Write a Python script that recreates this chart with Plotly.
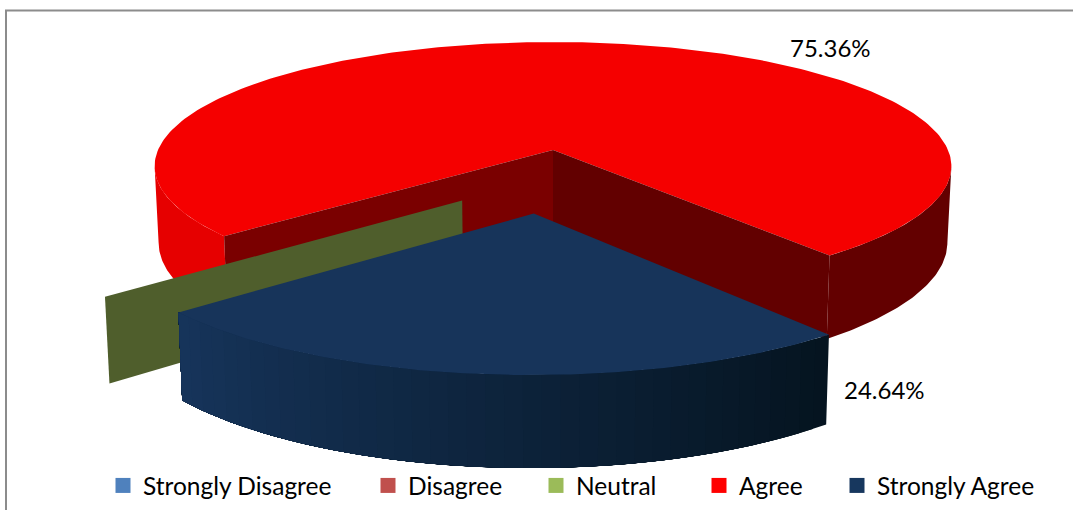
import numpy as np
import plotly.graph_objects as go

# ---- data ----
CATEGORIES = ["Strongly Disagree", "Disagree", "Neutral", "Agree", "Strongly Agree"]
VALUES = [0.0, 0.0, 0.0, 75.36, 24.64]
SHOWN_LABELS = {"Agree": (830, 47), "Strongly Agree": (884, 389)}

LEGEND_COLORS = ["#4F81BD", "#C0504D", "#9BBB59", "#FF0000", "#17375E"]
LEGEND_X = [103, 368, 536, 699, 837]

# ---- view of the 3D pie ----
CX, CY, RX, RY = 553.0, 150.0, 395.0, 122.0
PERSP = 0.13
DEPTH = 75.0
START = 139.7
PULL = {"Neutral": (0.45, 119.0), "Strongly Agree": (0.49, None)}

W, H = 1073, 510


def project(X, Y, z=0.0):
    s = 1.0 / (1.0 - PERSP * Y)
    return (CX + RX * X * s * (1 - 0.01 * z), CY + RY * Y * s + DEPTH * z * s)


def rim(theta, off=(0.0, 0.0)):
    t = np.radians(theta)
    return off[0] + np.cos(t), off[1] + np.sin(t)


def poly(points, color):
    xs = [p[0] for p in points] + [points[0][0]]
    ys = [p[1] for p in points] + [points[0][1]]
    return go.Scatter(x=xs, y=ys, mode="lines", fill="toself", fillcolor=color,
                      line=dict(width=0), hoverinfo="skip", showlegend=False)


def wall(a0, a1, off, color):
    th = np.linspace(a0, a1, 60)
    XY = [rim(t, off) for t in th]
    return poly([project(X, Y, 0) for X, Y in XY] + [project(X, Y, 1) for X, Y in XY[::-1]], color)


def mix(c0, c1, f):
    return "rgb({},{},{})".format(*[int(round(a + (b - a) * f)) for a, b in zip(c0, c1)])


# cumulative angles from the values
spans = {}
a = START
for c, v in zip(CATEGORIES, VALUES):
    spans[c] = (a, a + v / sum(VALUES) * 360.0)
    a = spans[c][1]


def offset(cat):
    mag, ang = PULL.get(cat, (0.0, None))
    if ang is None:
        ang = sum(spans[cat]) / 2
    t = np.radians(ang)
    return mag * np.cos(t), mag * np.sin(t)


fig = go.Figure()

# Agree slice
a0, a1 = spans["Agree"]
edge = np.degrees(np.arcsin(PERSP))
fig.add_trace(wall(a0, 180 - edge, (0, 0), "#E60000"))
fig.add_trace(wall(360 + edge, a1, (0, 0), "#630000"))
top = [project(0, 0)] + [project(*rim(t)) for t in np.linspace(a0, a1, 240)]
fig.add_trace(poly(top, "#F50000"))
for ang, col in ((a0, "#7A0000"), (a1, "#620000")):
    X, Y = rim(ang)
    fig.add_trace(poly([project(0, 0), project(X, Y), project(X, Y, 1), project(0, 0, 1)], col))

# Neutral slice: zero width, only its face shows
off = offset("Neutral")
X, Y = rim(spans["Neutral"][0], off)
fig.add_trace(poly([project(*off), project(X, Y), project(X, Y, 1), project(*off, 1)], "#4F5E2C"))

# Strongly Agree slice: bands painted over each other
a0, a1 = spans["Strongly Agree"]
off = offset("Strongly Agree")
N = 40
edges = np.linspace(a0, a1, N + 1)
for i in range(N):
    f = i / (N - 1)
    col = mix((5, 20, 32), (22, 52, 90), f)
    fig.add_trace(wall(edges[i], a1, off, col))
top = [project(*off)] + [project(*rim(t, off)) for t in np.linspace(a0, a1, 120)]
fig.add_trace(poly(top, "#17345A"))

# legend, one box per entry
layout_legends = {}
for i, (c, col, lx) in enumerate(zip(CATEGORIES, LEGEND_COLORS, LEGEND_X)):
    key = "legend" if i == 0 else f"legend{i + 1}"
    fig.add_trace(go.Scatter(x=[None], y=[None], mode="markers", name=c, legend=key,
                             marker=dict(symbol="square", size=15, color=col)))
    layout_legends[key] = dict(x=lx / W, y=1 - 463 / H, xanchor="left", yanchor="top",
                               bgcolor="rgba(0,0,0,0)", itemwidth=30, itemclick=False,
                               itemdoubleclick=False,
                               font=dict(family="Lato", size=24.5, color="#000000"))

annotations = []
for c, v in zip(CATEGORIES, VALUES):
    if c in SHOWN_LABELS:
        lx, ly = SHOWN_LABELS[c]
        annotations.append(dict(x=lx, y=ly, xref="x", yref="y", text=f"{v:.2f}%", showarrow=False,
                                font=dict(family="Lato", size=24, color="#000000")))

shapes = [
    dict(type="line", xref="x", yref="y", x0=6, x1=6, y0=510, y1=10.5,
         line=dict(color="#8C8C8C", width=2)),
    dict(type="line", xref="x", yref="y", x0=5, x1=1073, y0=10.5, y1=10.5,
         line=dict(color="#8C8C8C", width=2)),
]

fig.update_layout(
    width=W, height=H, margin=dict(l=0, r=0, t=0, b=0),
    paper_bgcolor="#FFFFFF", plot_bgcolor="#FFFFFF",
    xaxis=dict(range=[0, W], visible=False, fixedrange=True),
    yaxis=dict(range=[H, 0], visible=False, fixedrange=True),
    annotations=annotations, shapes=shapes, **layout_legends,
)
fig.write_html("out.html", config={"displayModeBar": False},
               post_script="document.body.style.margin='0';document.body.style.overflow='hidden';")
